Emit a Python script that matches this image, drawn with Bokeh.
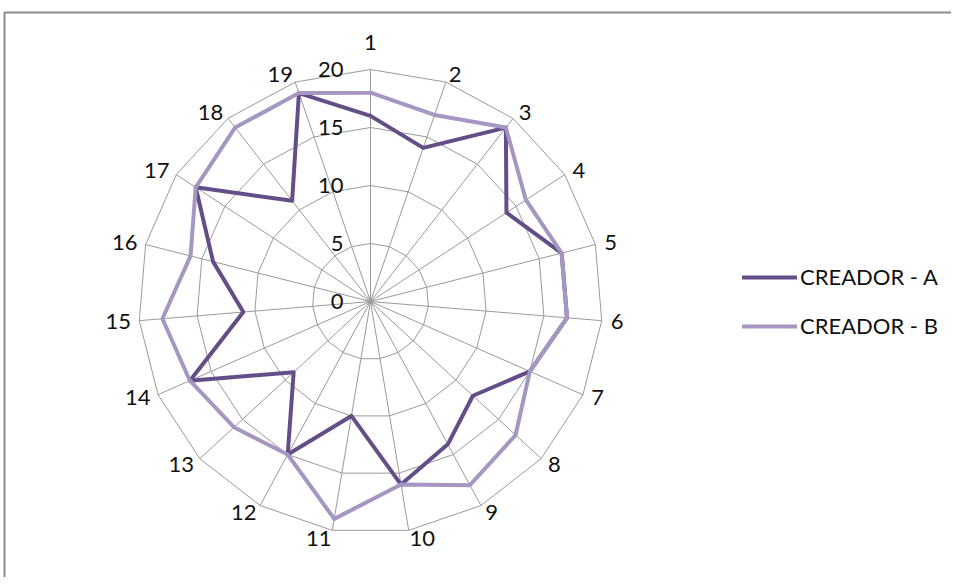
import numpy as np
from bokeh.plotting import figure
from bokeh.models import Range1d, Legend, LegendItem
from bokeh.core.properties import value
from bokeh.embed import file_html
from bokeh.resources import INLINE

# ---- data ----
categories = [str(i) for i in range(1, 20)]
creador_a = [16, 14, 19, 14, 17, 17, 15, 12, 14, 16, 10, 15, 9, 17, 11, 14, 18, 11, 19]
creador_b = [18, 17, 19, 16, 17, 17, 15, 17, 18, 16, 19, 15, 16, 17, 18, 16, 18, 19, 19]
radial_ticks = [0, 5, 10, 15, 20]
series_names = ["CREADOR - A", "CREADOR - B"]

# ---- layout ----
W, H = 951, 577
CX, CY = 370, 301          # chart centre in figure pixels
R_MAX = radial_ticks[-1]
PX = 232 / R_MAX           # pixels per unit
FONT = "Lato"
FS = "22px"
COL_A = "#644E87"
COL_B = "#A596C2"
GRID = "#9a9a9a"

p = figure(width=W, height=H, output_backend="svg", toolbar_location=None,
           x_range=Range1d(-CX / PX, (W - CX) / PX),
           y_range=Range1d(-(H - CY) / PX, CY / PX),
           min_border=0, x_axis_location=None, y_axis_location=None)
p.grid.visible = False
p.outline_line_color = None
p.background_fill_color = "white"

# chart-area border (only top and left edges fall inside the picture)
p.quad(left=[-(CX - 4) / PX], right=[(W - CX + 30) / PX],
       top=[(CY - 12) / PX], bottom=[-(H - CY + 30) / PX],
       fill_color=None, line_color="#8c8c8c", line_width=2)

n = len(categories)
theta = np.arange(n) * 2 * np.pi / n
s, c = np.sin(theta), np.cos(theta)

# grid rings
ring_xs, ring_ys = [], []
for t in radial_ticks[1:]:
    ring_xs.append(list(np.append(t * s, t * s[0])))
    ring_ys.append(list(np.append(t * c, t * c[0])))
p.multi_line(ring_xs, ring_ys, line_color=GRID, line_width=1)
# spokes
p.multi_line([[0, R_MAX * a] for a in s], [[0, R_MAX * b] for b in c],
             line_color=GRID, line_width=1)

# series
def closed(vals):
    v = np.array(vals, dtype=float)
    return list(np.append(v * s, v[0] * s[0])), list(np.append(v * c, v[0] * c[0]))

xa, ya = closed(creador_a)
xb, yb = closed(creador_b)
ra = p.line(xa, ya, line_color=COL_A, line_width=4, line_join="round", line_cap="round")
rb = p.line(xb, yb, line_color=COL_B, line_width=4, line_join="round", line_cap="round")

# radial tick labels
p.text(x=[-27 / PX] * len(radial_ticks), y=radial_ticks, text=[str(t) for t in radial_ticks],
       text_align="right", text_baseline="middle", text_font=value(FONT),
       text_font_size=FS, text_color="#111111")

# category labels: placed beside the outer ring, shifted sideways by half their width
lab_x, lab_y = [], []
for lab, si, ci in zip(categories, s, c):
    hw = 5.5 * len(lab) + 1
    if abs(si) < 1e-6:
        ox, oy = 0.0, 19.0
    else:
        ox, oy = np.sign(si) * hw, 0.0
    lab_x.append((241 * si + ox) / PX)
    lab_y.append((240 * ci + oy) / PX)
p.text(x=lab_x, y=lab_y, text=categories,
       text_align="center", text_baseline="middle", text_font=value(FONT),
       text_font_size=FS, text_color="#111111")

legend = Legend(items=[LegendItem(label=series_names[0], renderers=[ra]),
                       LegendItem(label=series_names[1], renderers=[rb])],
                location=(742, 238), orientation="vertical",
                glyph_width=55, glyph_height=24, label_height=24, spacing=22,
                padding=0, margin=0, label_standoff=3,
                border_line_color=None, background_fill_alpha=0,
                label_text_font=FONT, label_text_font_size=FS,
                label_text_color="#111111", label_text_baseline="middle")
p.add_layout(legend)

open("out.html", "w").write(file_html(p, INLINE))
